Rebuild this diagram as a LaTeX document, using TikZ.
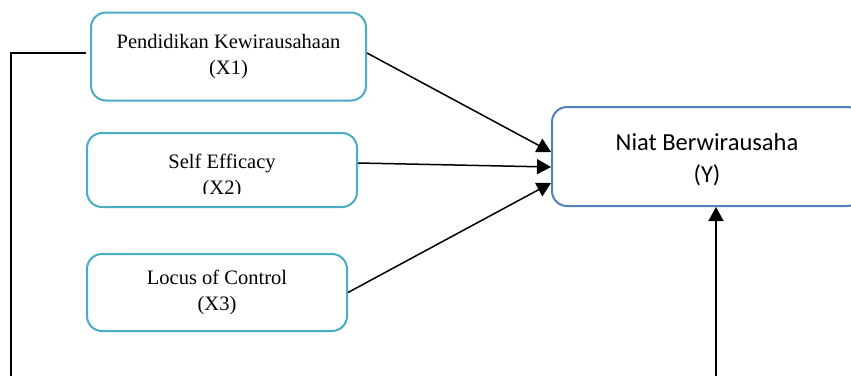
\documentclass[tikz,border=0pt]{standalone}
\usepackage{fontspec}
\setmainfont{Liberation Serif}
\newfontfamily\calfont{Carlito}
\usetikzlibrary{arrows.meta}
\definecolor{tealb}{HTML}{4BACC6}
\definecolor{blueb}{HTML}{4F81BD}
\tikzset{
  xbox/.style={draw=tealb, line width=2pt, rounded corners=15pt, fill=white, inner sep=0pt, align=center,
     font=\fontsize{20.5}{26}\selectfont},
  ybox/.style={draw=blueb, line width=2pt, rounded corners=15pt, fill=white, inner sep=0pt, align=center,
     font=\calfont\fontsize{24.5}{32}\selectfont},
  conn/.style={line width=1.5pt, draw=black},
  arr/.style={conn, -{Triangle[length=14pt, width=15pt]}},
}
\begin{document}
\begin{tikzpicture}[x=1pt,y=-1pt]
\useasboundingbox (0,0) rectangle (851,375);
\clip (0,0) rectangle (851,375);
\fill[white] (0,0) rectangle (851,375);
% boxes
\node[xbox, minimum width=275pt, minimum height=88pt] (X1) at (228.5,56.5) {Pendidikan Kewirausahaan\\(X1)};
\node[xbox, minimum width=270pt, minimum height=74pt] (X2) at (222,170) {};
\begin{scope}
  \clip (87,133) rectangle (357,193);
  \node[align=center, inner sep=0pt, font=\fontsize{20.5}{26}\selectfont] (X2t) at (222,176) {Self Efficacy\\(X2)};
\end{scope}
\node[xbox, minimum width=260pt, minimum height=77pt] (X3) at (217,292.5) {Locus of Control\\(X3)};
\node[ybox, minimum width=310pt, minimum height=99pt] (Y) at (707,156.5) {};
\node[align=center, inner sep=0pt, font=\calfont\fontsize{24.5}{32}\selectfont] (Yt) at (707,160) {Niat Berwirausaha\\(Y)};
% connectors
\draw[arr] ([yshift=3.5pt]X1.east) -- ([yshift=4.5pt]Y.west);
\draw[arr] ([yshift=7pt]X2.east) -- ([yshift=-10.5pt]Y.west);
\draw[arr] (X3.east) -- ([yshift=-26.5pt]Y.west);
\coordinate (L1) at (11,53);
\coordinate (L2) at (11,380);
\draw[conn] ([xshift=-4pt,yshift=3.5pt]X1.west) -- (L1) -- (L2);
\coordinate (B1) at (716,380);
\draw[arr] (B1) -- ([xshift=9pt]Y.south);
\end{tikzpicture}
\end{document}
